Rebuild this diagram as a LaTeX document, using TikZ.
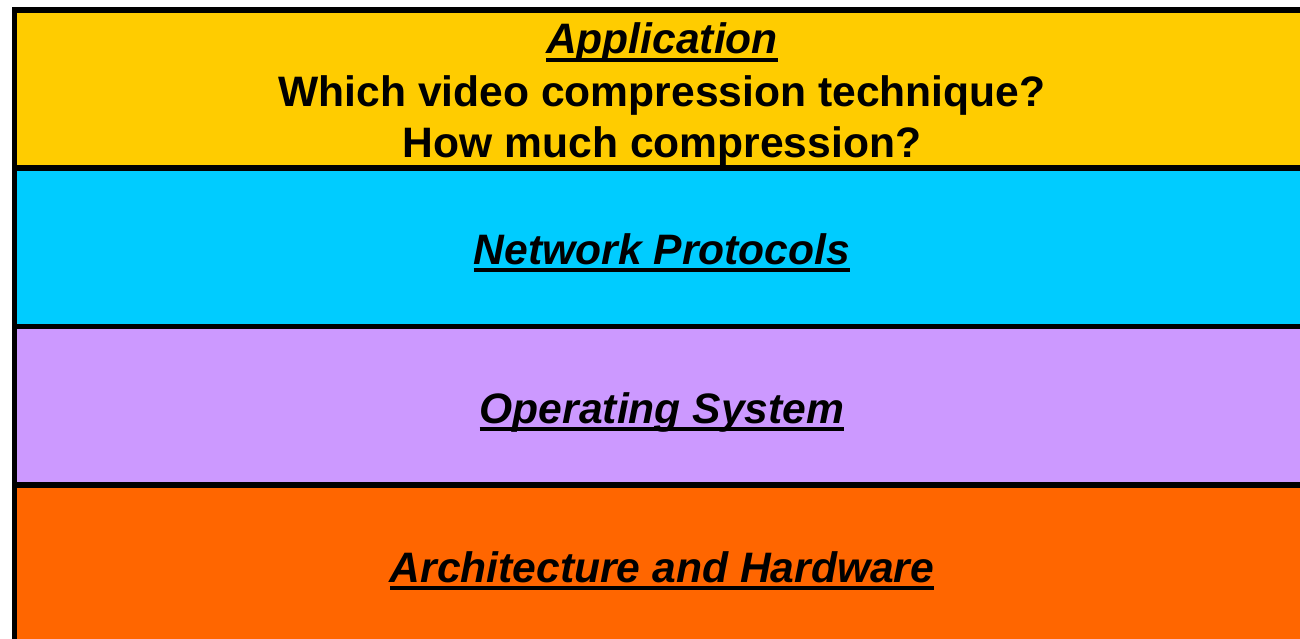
\documentclass[tikz,border=0pt]{standalone}
\usepackage{fontspec}
\setmainfont{Liberation Sans}
\definecolor{appyellow}{HTML}{FFCC00}
\definecolor{netcyan}{HTML}{00CCFF}
\definecolor{ospurple}{HTML}{CC99FF}
\definecolor{archorange}{HTML}{FF6600}
\newcommand\ultext[1]{\setbox0\hbox{#1}\rlap{\copy0}\rule[-8pt]{\wd0}{4pt}}
\begin{document}
\begin{tikzpicture}[x=1pt,y=-1pt,
  layer/.style={draw=black,line width=5.5pt,outer sep=0pt,inner sep=0pt,
    anchor=north west,minimum width=1300pt},
  lbl/.style={anchor=base,inner sep=0pt,font=\fontsize{42.6}{50}\selectfont\bfseries}]
\useasboundingbox (0,0) rectangle (1300,639);
\clip (0,0) rectangle (1300,639);
\node[layer,fill=appyellow,minimum height=158pt] (app) at (14.5,10) {};
\node[layer,fill=netcyan,minimum height=158.5pt] (net) at (14.5,168) {};
\node[layer,fill=ospurple,minimum height=158.5pt] (os) at (14.5,326.5) {};
\node[layer,fill=archorange,minimum height=170pt] (arch) at (14.5,485) {};
\node[lbl] (t1) at (662,54) {\itshape\ultext{Application}};
\node[lbl] (t2) at (662,106.5) {Which video compression technique?};
\node[lbl] (t3) at (662,157.5) {How much compression?};
\node[lbl] (t4) at (662,264) {\itshape\ultext{Network Protocols}};
\node[lbl] (t5) at (662,423) {\itshape\ultext{Operating System}};
\node[lbl] (t6) at (662,582) {\itshape\ultext{Architecture and Hardware}};
\end{tikzpicture}
\end{document}
